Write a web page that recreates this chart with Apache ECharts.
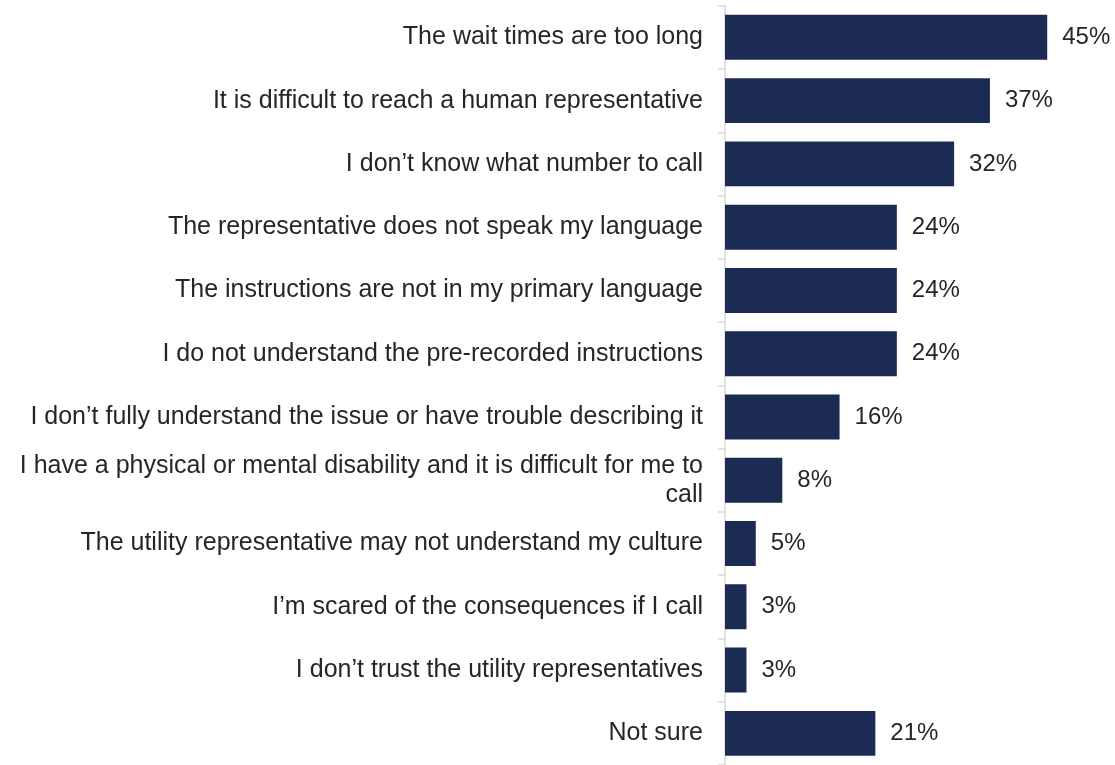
<!DOCTYPE html>
<html><head><meta charset="utf-8">
<script src="https://cdn.jsdelivr.net/npm/echarts@6/dist/echarts.min.js"></script>
<style>html,body{margin:0;padding:0;background:#fff}#c{width:1115px;height:765px}</style>
</head><body><div id="c"></div>
<script>
const categories = [
  "The wait times are too long",
  "It is difficult to reach a human representative",
  "I don\u2019t know what number to call",
  "The representative does not speak my language",
  "The instructions are not in my primary language",
  "I do not understand the pre-recorded instructions",
  "I don\u2019t fully understand the issue or have trouble describing it",
  "I have a physical or mental disability and it is difficult for me to\ncall",
  "The utility representative may not understand my culture",
  "I\u2019m scared of the consequences if I call",
  "I don\u2019t trust the utility representatives",
  "Not sure"
];
const values = [45, 37, 32, 24, 24, 24, 16, 8, 4.3, 3, 3, 21];
const labelText = ["45%", "37%", "32%", "24%", "24%", "24%", "16%", "8%", "5%", "3%", "3%", "21%"];

const chart = echarts.init(document.getElementById('c'), null, {renderer: 'canvas'});
chart.setOption({
  animation: false,
  grid: {left: 725, top: 5.7, width: 358, height: 762, containLabel: false},
  xAxis: {type: 'value', min: 0, max: 50, show: false},
  yAxis: {
    type: 'category', data: categories, inverse: true,
    axisLine: {show: true, lineStyle: {color: '#d9d9d9', width: 1.5}},
    axisTick: {show: true, length: 7, lineStyle: {color: '#d9d9d9', width: 1.5}},
    axisLabel: {
      margin: 22, color: '#262626', fontSize: 25, lineHeight: 29,
      fontFamily: 'Liberation Sans, Arial, sans-serif', align: 'right'
    },
    splitLine: {show: false}
  },
  series: [{
    type: 'bar', data: values, barCategoryGap: '29%',
    itemStyle: {color: '#1b2b54'},
    label: {
      show: true, position: 'right', distance: 15, color: '#262626', fontSize: 24,
      fontFamily: 'Liberation Sans, Arial, sans-serif',
      formatter: p => labelText[p.dataIndex]
    }
  }]
});
</script></body></html>
